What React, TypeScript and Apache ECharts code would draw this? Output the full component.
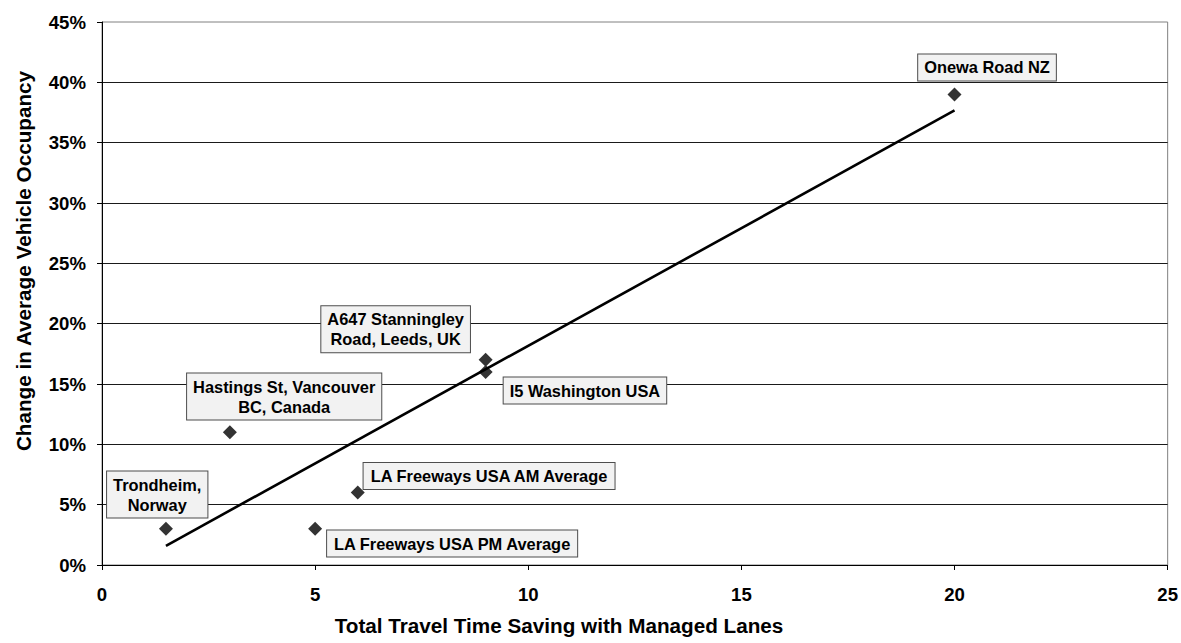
import React, { useEffect, useRef } from "react";
import * as echarts from "echarts";

const names = [
  "Trondheim,\nNorway",
  "Hastings St, Vancouver\nBC, Canada",
  "LA Freeways USA PM Average",
  "LA Freeways USA AM Average",
  "A647 Stanningley\nRoad, Leeds, UK",
  "I5 Washington USA",
  "Onewa Road NZ",
];
const timeSaving = [1.5, 3, 5, 6, 9, 9, 20];
const occupancyChange = [3, 11, 3, 6, 17, 16, 39];
const xTicks = [0, 5, 10, 15, 20, 25];
const yTicks = [0, 5, 10, 15, 20, 25, 30, 35, 40, 45];

// label box offsets (layout only), relative to each point
const labelOffsets: [number, number][] = [
  [-8.7, -34.3],
  [54.3, -35.7],
  [137, 14.7],
  [131.3, -16.7],
  [-90, -30.7],
  [99.3, 18.6],
  [32.5, -27],
];

const FONT = "'Liberation Sans', Arial, Helvetica, sans-serif";

function regression(xs: number[], ys: number[]) {
  const n = xs.length;
  const mx = xs.reduce((a, b) => a + b, 0) / n;
  const my = ys.reduce((a, b) => a + b, 0) / n;
  let sxy = 0;
  let sxx = 0;
  for (let i = 0; i < n; i++) {
    sxy += (xs[i] - mx) * (ys[i] - my);
    sxx += (xs[i] - mx) * (xs[i] - mx);
  }
  const slope = sxy / sxx;
  return { slope, intercept: my - slope * mx };
}

export default function App() {
  const ref = useRef<HTMLDivElement>(null);
  useEffect(() => {
    if (!ref.current) return;
    const chart = echarts.init(ref.current, undefined, { renderer: "svg" });
    const { slope, intercept } = regression(timeSaving, occupancyChange);
    const xMinD = Math.min(...timeSaving);
    const xMaxD = Math.max(...timeSaving);
    const trend = [
      [xMinD, intercept + slope * xMinD],
      [xMaxD, intercept + slope * xMaxD],
    ];
    chart.setOption({
      animation: false,
      backgroundColor: "#ffffff",
      textStyle: { fontFamily: FONT },
      grid: {
        left: 102,
        right: 13,
        top: 22,
        bottom: 78,
        show: true,
        borderColor: "#808080",
        borderWidth: 1,
        backgroundColor: "transparent",
      },
      xAxis: {
        type: "value",
        min: xTicks[0],
        max: xTicks[xTicks.length - 1],
        interval: 5,
        axisLine: { show: true, onZero: false, lineStyle: { color: "#000", width: 1 } },
        axisTick: { show: true, length: 5, lineStyle: { color: "#000" } },
        axisLabel: {
          margin: 20,
          color: "#000",
          fontSize: 18.6,
          fontWeight: "bold",
          fontFamily: FONT,
        },
        splitLine: { show: false },
      },
      yAxis: {
        type: "value",
        min: yTicks[0],
        max: yTicks[yTicks.length - 1],
        interval: 5,
        axisLine: { show: true, onZero: false, lineStyle: { color: "#000", width: 1 } },
        axisTick: { show: true, length: 5, lineStyle: { color: "#000" } },
        axisLabel: {
          margin: 16,
          color: "#000",
          fontSize: 18.6,
          fontWeight: "bold",
          fontFamily: FONT,
          formatter: "{value}%",
        },
        splitLine: {
          show: true,
          showMinLine: false,
          showMaxLine: false,
          lineStyle: { color: "#1a1a1a", width: 1 },
        },
      },
      graphic: [
        {
          type: "text",
          x: 559,
          y: 625,
          style: {
            text: "Total Travel Time Saving with Managed Lanes",
            fontSize: 20.7,
            fontWeight: "bold",
            fontFamily: FONT,
            fill: "#000",
            textAlign: "center",
            textVerticalAlign: "middle",
          },
        },
        {
          type: "text",
          x: 23,
          y: 261,
          rotation: Math.PI / 2,
          style: {
            text: "Change in Average Vehicle Occupancy",
            fontSize: 20.7,
            fontWeight: "bold",
            fontFamily: FONT,
            fill: "#000",
            textAlign: "center",
            textVerticalAlign: "middle",
          },
        },
      ],
      series: [
        {
          type: "line",
          data: trend,
          symbol: "none",
          lineStyle: { color: "#000", width: 2.6 },
          z: 3,
          silent: true,
        },
        {
          type: "scatter",
          symbol: "diamond",
          symbolSize: 14,
          itemStyle: { color: "#333333", opacity: 1 },
          z: 2,
          data: timeSaving.map((x, i) => ({
            value: [x, occupancyChange[i]],
            name: names[i],
            label: {
              show: true,
              position: "inside",
              offset: labelOffsets[i],
              formatter: names[i],
              color: "#000",
              opacity: 1,
              fontSize: 16.4,
              fontWeight: "bold",
              fontFamily: FONT,
              lineHeight: 20,
              align: "center",
              verticalAlign: "middle",
              backgroundColor: "#f2f2f2",
              borderColor: "#4d4d4d",
              borderWidth: 1,
              padding: [3, 6, 3, 6],
            },
          })),
        },
      ],
    });
    return () => chart.dispose();
  }, []);
  return (
    <div
      ref={ref}
      style={{ position: "fixed", left: 0, top: 0, width: 1181, height: 643 }}
    />
  );
}
